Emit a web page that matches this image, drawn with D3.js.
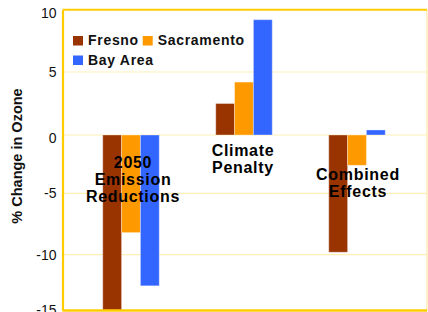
<!DOCTYPE html>
<html><head><meta charset="utf-8">
<script src="https://cdn.jsdelivr.net/npm/d3@7"></script>
<style>
html,body{margin:0;padding:0;background:#fff;}
svg{display:block;font-family:"Liberation Sans",Arial,sans-serif;}
</style></head>
<body><svg id="c" width="428" height="312"></svg>
<script>
const categories = ["2050 Emission Reductions", "Climate Penalty", "Combined Effects"];
const categoryLines = [["2050", "Emission", "Reductions"], ["Climate", "Penalty"], ["Combined", "Effects"]];
const seriesNames = ["Fresno", "Sacramento", "Bay Area"];
const fresno = [-15, 2.5, -9.8];
const sacramento = [-8.2, 4.2, -2.6];
const bayArea = [-12.8, 9.2, 0.4];
const yTicks = [10, 5, 0, -5, -10, -15];
const colors = ["#993300", "#FF9900", "#3366FF"];

const values = [fresno, sacramento, bayArea];
const svg = d3.select("#c");
const L = 62.5, R = 427, T = 9.7, B = 310.5;

// y scale (source image tick spacing is slightly uneven)
const y = d3.scaleLinear().domain(yTicks).range([9.7, 72, 135, 193.3, 254.7, 310.3]).clamp(true);
const x0 = d3.scaleBand().domain(categories).range([74.5, 413.5]).paddingInner(0.5).paddingOuter(0.25);
const x1 = d3.scaleBand().domain(seriesNames).range([0, x0.bandwidth()]).padding(0);

// gridlines
svg.append("g").selectAll("line").data(yTicks.filter(t => t > -15 && t < 10)).join("line")
  .attr("x1", L).attr("x2", R).attr("y1", d => y(d)).attr("y2", d => y(d))
  .attr("stroke", "#FFEFB5").attr("stroke-width", 1.2);

// bars
const groups = svg.append("g").selectAll("g").data(categories).join("g")
  .attr("transform", d => `translate(${x0(d)},0)`);
groups.selectAll("rect").data((c, ci) => seriesNames.map((s, si) => ({s, si, v: values[si][ci]}))).join("rect")
  .attr("x", d => x1(d.s)).attr("width", x1.bandwidth())
  .attr("y", d => Math.min(y(d.v), y(0))).attr("height", d => Math.abs(y(d.v) - y(0)))
  .attr("fill", d => colors[d.si])
  .attr("stroke", "rgba(255,255,255,0.35)").attr("stroke-width", 1);

// frame
svg.append("line").attr("x1", R).attr("x2", R).attr("y1", T).attr("y2", B).attr("stroke", "#FFE9A8").attr("stroke-width", 1.2);
svg.append("line").attr("x1", L).attr("x2", R).attr("y1", T).attr("y2", T).attr("stroke", "#FFCC00").attr("stroke-width", 2);
svg.append("line").attr("x1", L).attr("x2", R).attr("y1", B).attr("y2", B).attr("stroke", "#FFCC00").attr("stroke-width", 2.5);

// y axis
const ax = svg.append("g").attr("transform", `translate(${L},0)`)
  .call(d3.axisLeft(y).tickValues(yTicks).tickSize(0).tickPadding(6).tickFormat(d => String(d)));
ax.select(".domain").attr("stroke", "#FFCC00").attr("stroke-width", 2.2);
ax.selectAll("text").attr("font-size", 14).attr("fill", "#111").attr("font-family", "Liberation Sans, Arial, sans-serif")
  .attr("dy", d => d === 10 ? "0.55em" : d === 0 ? "0.55em" : "0.32em");

// y title
svg.append("text").attr("transform", "translate(22,156) rotate(-90)")
  .attr("text-anchor", "middle").attr("font-size", 14.5).attr("font-weight", "bold").attr("fill", "#111")
  .text("% Change in Ozone");

// category labels
const labelStart = [167.7, 156, 180];
const labelDx = [2, -1, 1];
categoryLines.forEach((lines, i) => {
  const cx = x0(categories[i]) + x0.bandwidth() / 2 + labelDx[i];
  lines.forEach((ln, j) => {
    svg.append("text").attr("x", cx).attr("y", labelStart[i] + j * 17)
      .attr("text-anchor", "middle").attr("font-size", 16).attr("font-weight", "bold")
      .attr("letter-spacing", "0.7px").attr("fill", "#000").text(ln);
  });
});

// legend
const legPos = [[73, 36], [142.7, 36], [73, 55.5]];
seriesNames.forEach((s, i) => {
  const g = svg.append("g").attr("transform", `translate(${legPos[i][0]},${legPos[i][1]})`);
  g.append("rect").attr("width", 10).attr("height", 9.5).attr("fill", colors[i]);
  g.append("text").attr("x", 15).attr("y", 9.3).attr("font-size", 14).attr("font-weight", "bold")
    .attr("letter-spacing", "0.7px").attr("fill", "#111").text(s);
});
</script></body></html>
